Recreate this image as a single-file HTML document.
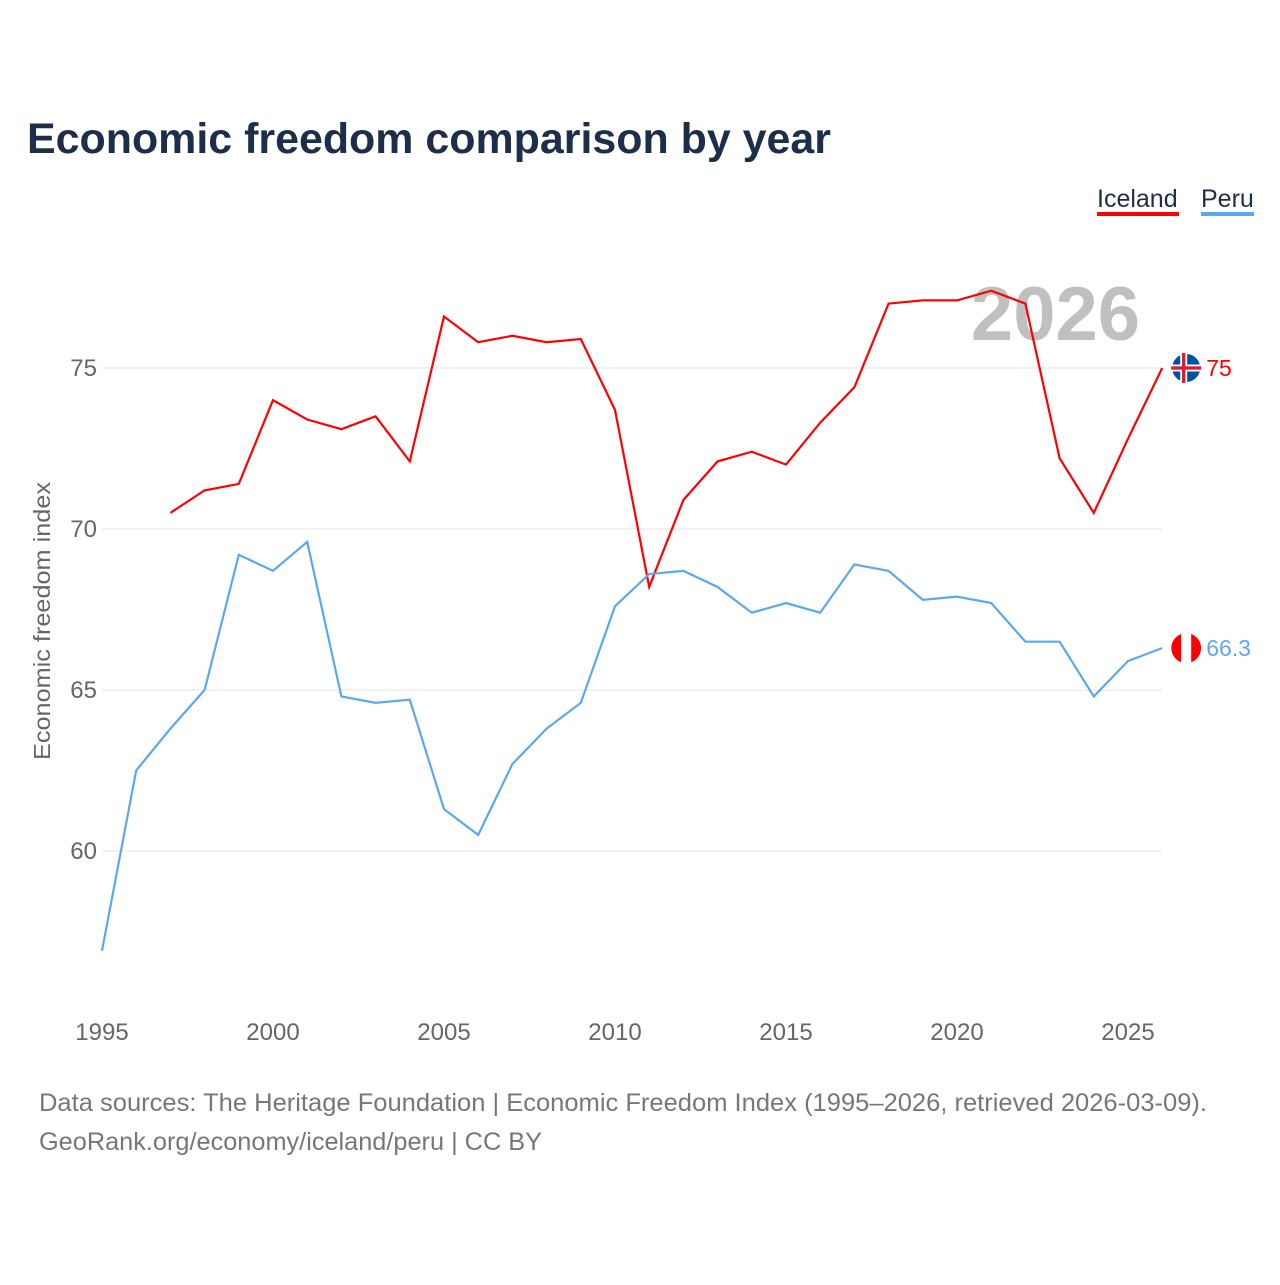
<!DOCTYPE html>
<html><head><meta charset="utf-8"><style>
body{margin:0;background:#fff;width:1280px;height:1280px;overflow:hidden;font-family:"Liberation Sans",sans-serif}
</style></head><body>
<svg id="chart" width="1280" height="1280" xmlns="http://www.w3.org/2000/svg">
<text x="27" y="153" font-size="43" font-weight="bold" fill="#1c2e4a" textLength="804" lengthAdjust="spacingAndGlyphs">Economic freedom comparison by year</text>
<g><text x="1097" y="207" font-size="25" fill="#1c2e4a">Iceland</text><rect x="1097" y="212" width="82" height="4" fill="#f00"/></g>
<g><text x="1201" y="207" font-size="25" fill="#1c2e4a">Peru</text><rect x="1201" y="212" width="53" height="4" fill="#5aa8ee"/></g>
<text x="1140" y="340" font-size="76" font-weight="bold" fill="#c0c0c0" text-anchor="end">2026</text>
<text transform="translate(50,621) rotate(-90)" font-size="23" fill="#666" text-anchor="middle" textLength="278" lengthAdjust="spacingAndGlyphs">Economic freedom index</text>
<g id="grid"></g><g id="lines"></g>
<text x="39" y="1111" font-size="25" fill="#777" textLength="1168" lengthAdjust="spacingAndGlyphs">Data sources: The Heritage Foundation | Economic Freedom Index (1995–2026, retrieved 2026-03-09).</text>
<text x="39" y="1150" font-size="25" fill="#777" textLength="503" lengthAdjust="spacingAndGlyphs">GeoRank.org/economy/iceland/peru | CC BY</text>
</svg>
<script>
const years=[1995,1996,1997,1998,1999,2000,2001,2002,2003,2004,2005,2006,2007,2008,2009,2010,2011,2012,2013,2014,2015,2016,2017,2018,2019,2020,2021,2022,2023,2024,2025,2026];
const iceland=[null,null,70.5,71.2,71.4,74.0,73.4,73.1,73.5,72.1,76.6,75.8,76.0,75.8,75.9,73.7,68.2,70.9,72.1,72.4,72.0,73.3,74.4,77.0,77.1,77.1,77.4,77.0,72.2,70.5,72.8,75.0];
const peru=[56.9,62.5,63.8,65.0,69.2,68.7,69.6,64.8,64.6,64.7,61.3,60.5,62.7,63.8,64.6,67.6,68.6,68.7,68.2,67.4,67.7,67.4,68.9,68.7,67.8,67.9,67.7,66.5,66.5,64.8,65.9,66.3];
const yTicks=[60,65,70,75];
const xTicks=[1995,2000,2005,2010,2015,2020,2025];
const NS="http://www.w3.org/2000/svg";
const x=v=>102+(v-1995)*34.2;
const y=v=>368+(75-v)*32.2;
function mk(t,a,p){const e=document.createElementNS(NS,t);for(const k in a)e.setAttribute(k,a[k]);p.appendChild(e);return e;}
const grid=document.getElementById('grid'),lines=document.getElementById('lines');
yTicks.forEach(t=>{
 const l=mk('line',{x1:102,x2:1162,y1:y(t),y2:y(t),stroke:'#e6e6e6','stroke-width':1},grid);
 
 
 const tx=mk('text',{x:97,y:y(t)+8,'font-size':24,fill:'#666','text-anchor':'end'},grid);tx.textContent=t;
 
 
});
xTicks.forEach(t=>{
 const tx=mk('text',{x:x(t),y:1040,'font-size':24,fill:'#666','text-anchor':'middle'},grid);tx.textContent=t;
 
 
});
function series(vals,color,name){
 let d='';vals.forEach((v,i)=>{if(v==null)return;d+=(d?'L':'M')+x(years[i])+','+y(v);});
 const p=mk('path',{d:d,fill:'none',stroke:color,'stroke-width':2.2},lines);
 
 
 const last=vals[vals.length-1],lx=x(years[years.length-1])+24,ly=y(last);
 return [last,lx,ly];
}
const [iv,ix,iy]=series(iceland,'#f00','iceland');
const [pv,px,py]=series(peru,'#5aa8ee','peru');
const fi=mk('g',{},lines);


mk('circle',{cx:ix,cy:iy,r:15,fill:'#02529c',stroke:'#fff','stroke-width':2},fi);
mk('rect',{x:ix-15,y:iy-3.5,width:30,height:7,fill:'#fff'},fi);
mk('rect',{x:ix-6,y:iy-15,width:7,height:30,fill:'#fff'},fi);
mk('rect',{x:ix-15,y:iy-1.7,width:30,height:3.4,fill:'#dc1e35'},fi);
mk('rect',{x:ix-4.2,y:iy-15,width:3.4,height:30,fill:'#dc1e35'},fi);
const fp=mk('g',{},lines);


mk('circle',{cx:px,cy:py,r:15,fill:'#fff',stroke:'#fff','stroke-width':2},fp);
mk('path',{d:`M${px-5},${py-14.1}A15,15 0 0 0 ${px-5},${py+14.1}Z`,fill:'#f00'},fp);
mk('path',{d:`M${px+5},${py-14.1}A15,15 0 0 1 ${px+5},${py+14.1}Z`,fill:'#f00'},fp);
const it=mk('text',{x:ix+20,y:iy+8,'font-size':23,fill:'#f00'},lines);it.textContent=iv;


const pt=mk('text',{x:px+20,y:py+8,'font-size':23,fill:'#5aa8ee'},lines);pt.textContent=pv;


</script>
</body></html>
